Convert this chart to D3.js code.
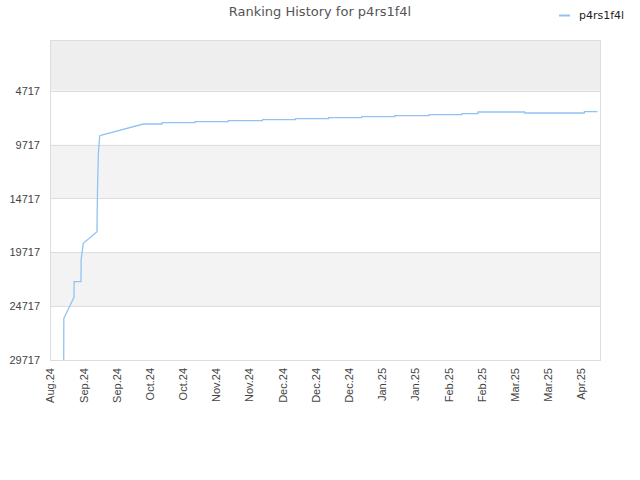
<!DOCTYPE html>
<html>
<head>
<meta charset="utf-8">
<script src="https://cdn.jsdelivr.net/npm/d3@7"></script>
<style>
  body { margin: 0; background: #fff; }
  svg { font-family: "DejaVu Sans", sans-serif; }
</style>
</head>
<body>
<svg id="chart"></svg>
<script>
const seriesName = 'p4rs1f4l';

// readings (date, rank)
const dates = [
  '2024-08-31T19:00', '2024-08-31T20:00', '2024-09-05T03:00', '2024-09-05T04:00',
  '2024-09-08T02:00', '2024-09-08T03:00', '2024-09-08T12:00', '2024-09-09T01:00',
  '2024-09-14T20:00', '2024-09-14T21:00', '2024-09-15T02:00', '2024-09-15T10:00',
  '2024-09-15T23:00', '2024-09-16T19:00', '2024-10-04T08:00',
  '2024-10-12T05:00', '2024-10-12T06:00', '2024-10-26T04:00', '2024-10-26T05:00',
  '2024-11-09T04:00', '2024-11-09T05:00', '2024-11-23T14:00', '2024-11-23T15:00',
  '2024-12-07T13:00', '2024-12-07T14:00', '2024-12-21T12:00', '2024-12-21T13:00',
  '2025-01-04T11:00', '2025-01-04T12:00', '2025-01-18T10:00', '2025-01-18T11:00',
  '2025-02-01T19:00', '2025-02-01T20:00', '2025-02-15T18:00', '2025-02-15T19:00',
  '2025-02-22T12:00', '2025-02-22T13:00', '2025-03-14T04:00', '2025-03-14T05:00',
  '2025-04-08T09:00', '2025-04-08T10:00', '2025-04-13T23:00'
];
const ranks = [
  29717, 25846, 23895, 22447,
  22447, 20431, 19781, 18881,
  17803, 16410, 13466, 10494,
  8916, 8823, 7801,
  7801, 7680, 7680, 7587,
  7587, 7495, 7495, 7402,
  7402, 7309, 7309, 7216,
  7216, 7123, 7123, 7030,
  7030, 6937, 6937, 6845,
  6845, 6687, 6687, 6780,
  6780, 6659, 6659
];

const yTicks = [4717, 9717, 14717, 19717, 24717, 29717];
const xTicks = [
  '2024-08-26', '2024-09-09', '2024-09-23', '2024-10-07', '2024-10-21',
  '2024-11-04', '2024-11-18', '2024-12-02', '2024-12-16', '2024-12-30',
  '2025-01-13', '2025-01-27', '2025-02-10', '2025-02-24', '2025-03-10',
  '2025-03-24', '2025-04-07'
];

const width = 640;
const height = 480;
const margin = { top: 40, right: 40, bottom: 120, left: 50 };
const innerW = width - margin.left - margin.right;
const innerH = height - margin.top - margin.bottom;

const parse = d3.timeParse('%Y-%m-%dT%H:%M');
const parseDay = d3.timeParse('%Y-%m-%d');
const data = dates.map((d, i) => ({ date: parse(d), rank: ranks[i] }));

const x = d3.scaleTime()
  .domain([parseDay('2024-08-26'), parseDay('2025-04-15')])
  .range([0, innerW]);
const y = d3.scaleLinear()
  .domain([0, 29717])
  .range([0, innerH]);

const svg = d3.select('#chart')
  .attr('width', width)
  .attr('height', height);

const g = svg.append('g')
  .attr('transform', `translate(${margin.left},${margin.top})`);

// alternating bands
const bandEdges = [0].concat(yTicks);
for (let i = 0; i < bandEdges.length - 1; i++) {
  const fill = i === 0 ? '#eeeeee' : (i % 2 === 0 ? '#f3f3f3' : '#ffffff');
  g.append('rect')
    .attr('x', 0)
    .attr('y', y(bandEdges[i]))
    .attr('width', innerW)
    .attr('height', y(bandEdges[i + 1]) - y(bandEdges[i]))
    .attr('fill', fill);
}

g.selectAll('.grid')
  .data(yTicks)
  .enter()
  .append('line')
  .attr('x1', 0)
  .attr('x2', innerW)
  .attr('y1', d => Math.round(y(d)) + 0.5)
  .attr('y2', d => Math.round(y(d)) + 0.5)
  .attr('stroke', '#dddddd');

g.append('rect')
  .attr('x', 0.5)
  .attr('y', 0.5)
  .attr('width', innerW)
  .attr('height', innerH)
  .attr('fill', 'none')
  .attr('stroke', '#dddddd');

// y axis
const yAxis = g.append('g')
  .call(d3.axisLeft(y).tickValues(yTicks).tickSize(0).tickPadding(10).tickFormat(d3.format('d')));
yAxis.select('.domain').remove();
yAxis.selectAll('text')
  .attr('fill', '#444')
  .style('font-size', '11px');

// x axis
const xAxis = g.append('g')
  .attr('transform', `translate(0,${innerH})`)
  .call(d3.axisBottom(x)
    .tickValues(xTicks.map(parseDay))
    .tickSize(0)
    .tickFormat(d3.timeFormat('%b.%y')));
xAxis.select('.domain').remove();
xAxis.selectAll('text')
  .attr('fill', '#444')
  .style('font-size', '11px')
  .attr('text-anchor', 'end')
  .attr('transform', 'rotate(-90)')
  .attr('x', -8)
  .attr('y', 0)
  .attr('dy', '0.35em');

// line
const line = d3.line()
  .x(d => x(d.date))
  .y(d => y(d.rank));

g.append('path')
  .datum(data)
  .attr('d', line)
  .attr('fill', 'none')
  .attr('stroke', '#90c3f3')
  .attr('stroke-width', 1.3);

// title
svg.append('text')
  .attr('x', width / 2)
  .attr('y', 16)
  .attr('text-anchor', 'middle')
  .attr('fill', '#555')
  .style('font-size', '13px')
  .text('Ranking History for ' + seriesName);

// legend
svg.append('line')
  .attr('x1', 559)
  .attr('x2', 570)
  .attr('y1', 15.5)
  .attr('y2', 15.5)
  .attr('stroke', '#90c3f3')
  .attr('stroke-width', 2);
svg.append('text')
  .attr('x', 579)
  .attr('y', 19)
  .attr('fill', '#222')
  .style('font-size', '11px')
  .text(seriesName);
</script>
</body>
</html>
